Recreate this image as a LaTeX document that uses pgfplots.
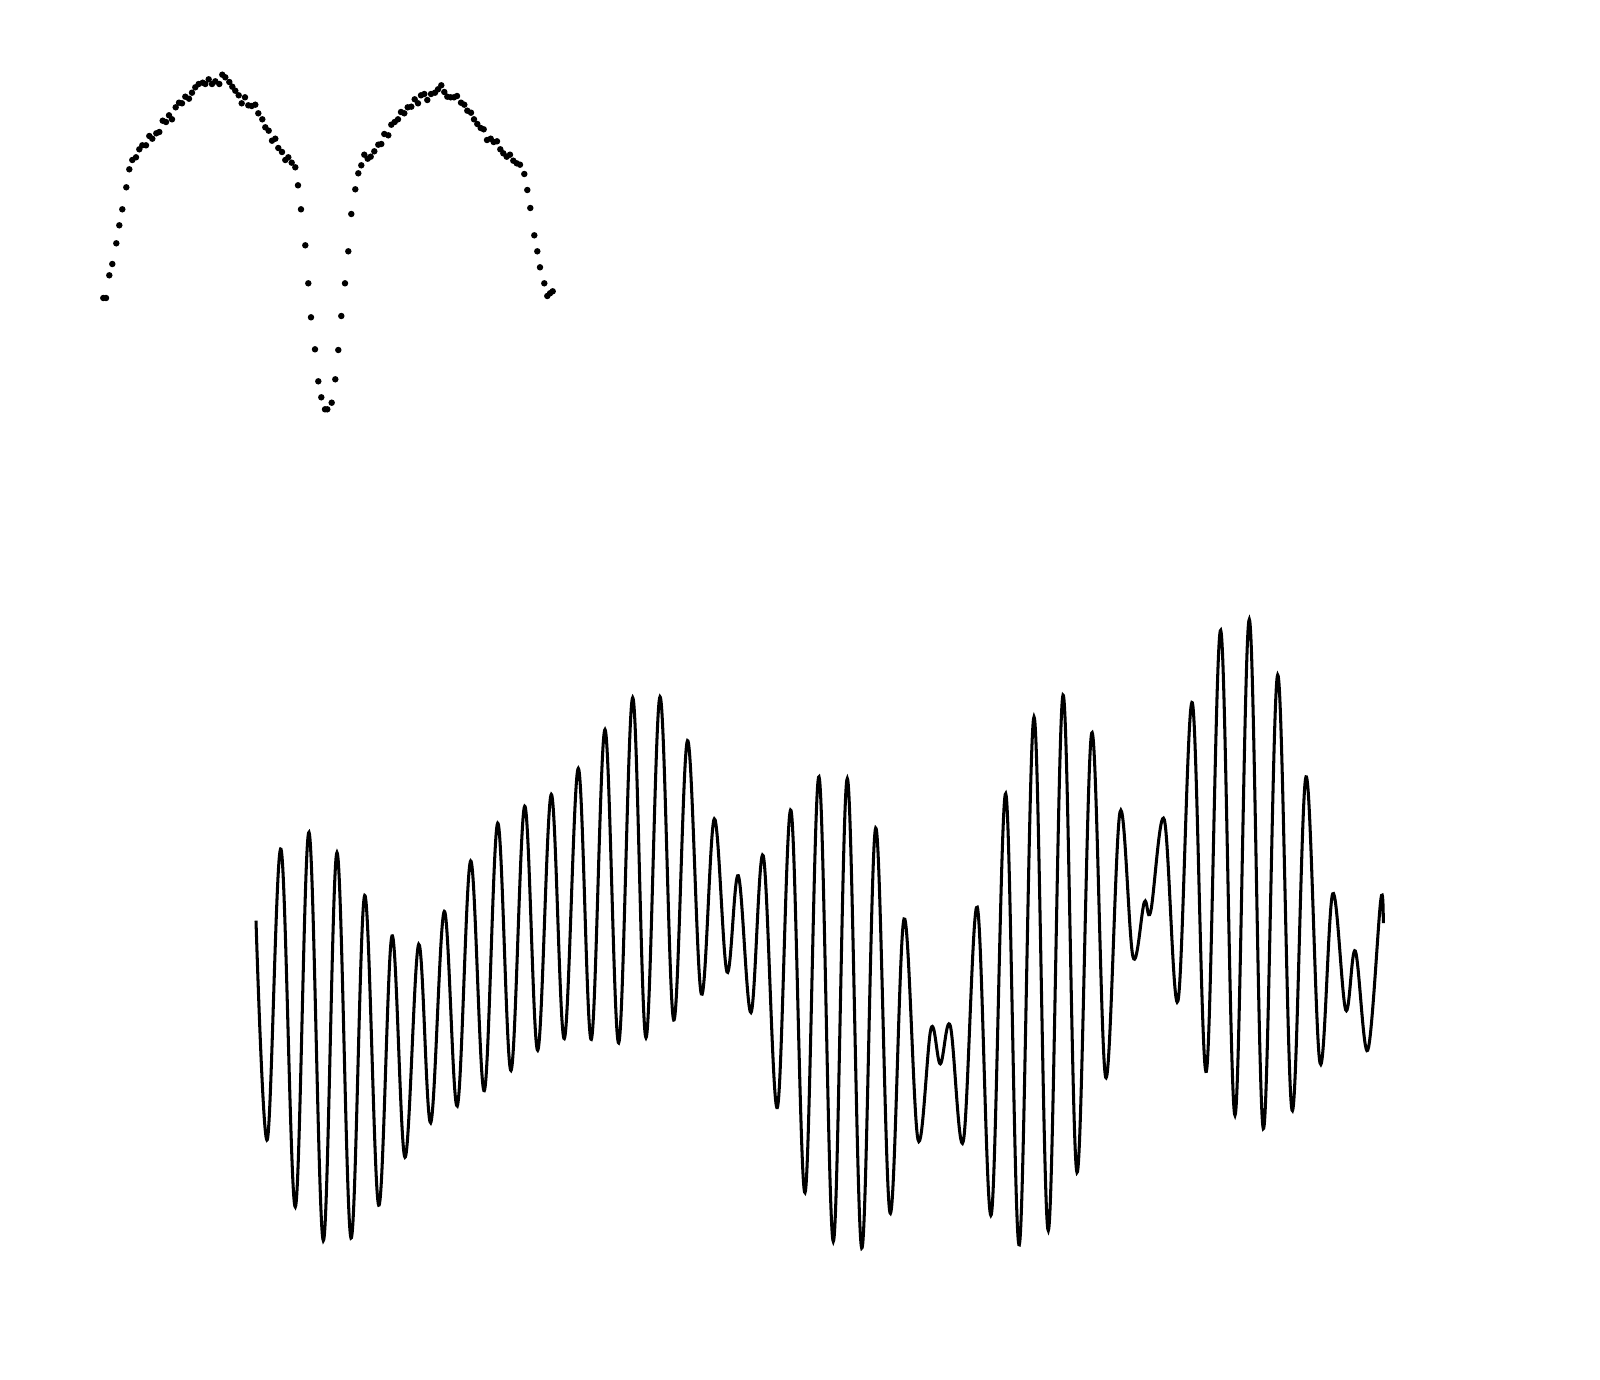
\documentclass[border=0pt]{standalone}
\usepackage{pgfplots}
\pgfplotsset{compat=1.18}
\begin{document}
\begin{tikzpicture}
\begin{axis}[
  scale only axis, width=8in, height=6.9in,
  xmin=0, xmax=1600, ymin=0, ymax=1380, y dir=reverse,
  axis line style={draw=none}, ticks=none, clip=false,
]
\addplot[only marks, mark=*, mark size=0.95pt, black] coordinates {
(103.3,298)(106,298)(109.3,275.3)(112.3,264)(116.3,243.3)(119.3,225.3)(122.3,209.3)(126.3,187.3)(129.3,169.3)(132.3,160)
(136,157.3)(139.3,149.3)(142.3,145.3)(146,145.3)(149.3,136)(152.3,138.7)(156.3,133.3)(159.3,132)(162.7,120.7)(166,122)
(169,115.3)(172,119.3)(175.7,107.3)(179,102.7)(182,103.3)(185.3,96.7)(189,98.7)(192,92.7)(195.3,87.3)(198.7,84)
(202.7,82.7)(205.3,84)(208.7,79.3)(212,84)(215.3,81.3)(219.3,84)(222.3,74.7)(225.3,77.3)(229.3,82)(232.3,86.7)
(235.3,90.7)(238.7,95.3)(241.7,103.3)(245,97.3)(248.3,105.3)(251.7,106)(255.3,104.7)(258.3,113.3)(262.3,119.3)(265.3,127.3)
(268.7,130.7)(272,140.7)(275.3,138.7)(278.3,148)(282,152)(285.3,160)(288.3,157.3)(291.7,162.7)(295.3,167.3)(298,185.3)
(301,209.3)(305.3,245.3)(308.3,283.3)(311,317.3)(315,349.3)(318.3,381.3)(321.3,397.3)(325,409.3)(327.3,409.3)
(331.7,402.7)(335.3,379.3)(338.3,350)(341.3,316)(345,283.3)(348.3,251.3)(351.3,214)(355.3,189.3)(358.3,173.3)(361.3,165.3)
(364.3,154.7)(367.7,158.7)(370.7,156.7)(374.3,151.3)(378.3,144.7)(381.3,144)(384.3,134)(388.3,135.3)(391.3,124.7)(394.7,122)
(398,119.3)(401,112)(404.3,113.3)(407.7,107.3)(411.3,106.7)(414.7,99.3)(418,103.3)(421,95.3)(424.3,94)(427.3,100)
(431,94)(435,92.7)(438,89.3)(441.3,85.3)(444.3,92)(447.3,96.7)(450.7,97.3)(454,97.3)(457,96)(461,102.7)
(464.3,104.7)(467.3,110.7)(471,112.7)(474,119.3)(477.3,124)(480.7,128)(483.7,129.3)(487,140)(490.7,138.7)(493.7,142)
(497,141.3)(500.3,149.3)(503.3,153.3)(506.7,156.7)(510,154.7)(513.3,160.7)(516.7,163.3)(520,164.7)(524.3,174)(527.3,190)
(530.3,208)(534.3,235.3)(537.3,251.3)(540,267.3)(544.3,283.3)(547.3,296)(550,293.3)(552.7,291.3)
};
\addplot[black, line width=1.1pt, smooth, tension=0.6] coordinates {
(256,920.7)(267.3,1139.6)(281,849.2)(295.3,1206.9)(309,832.3)(323.3,1240.6)(337,852.5)(351,1238)(364.7,895.5)(378.7,1205.2)
(392,935.9)(405,1157.2)(418.7,944.3)(430.7,1122.7)(444.3,911.4)(457.3,1105.9)(470.7,860.9)(484.3,1090.7)(497.7,823.1)(511,1070.5)
(524.7,806.2)(537.7,1050.3)(551.3,794.4)(564.3,1038.6)(578.3,768.4)(591.3,1039.4)(605,729.6)(618.7,1042.8)(632.7,697.6)(646,1037.7)
(660,696.8)(673.7,1020)(687.5,740.6)(701.3,993.9)(714.3,818.9)(727,972)(738.3,875.7)(751,1012.5)(763.3,855.9)(777.3,1107.6)
(791,810.4)(805,1192.6)(819,776.8)(833.3,1241.4)(847.3,778.5)(861.7,1248.1)(875.7,828.1)(890,1212.8)(904,919)(918,1139.6)
(931,1028.5)(940.3,1063.8)(950.3,1025.9)(963.3,1141.2)(977.3,907.2)(991.3,1214.5)(1005.7,793.6)(1019.3,1244.8)(1034,717)(1048.3,1230.5)
(1063,695.1)(1077,1172.4)(1091.7,733)(1105.7,1077.3)(1120,812.1)(1133,956.9)(1144.3,902.2)(1150.7,911.4)(1164.3,819.7)(1178,1000.7)
(1192.3,702.7)(1206.3,1071.4)(1220.7,630.3)(1235,1115.2)(1249.3,619.4)(1263.3,1128.6)(1277.7,674.9)(1292,1110.1)(1306,776.8)(1320,1063)
(1332.7,893.8)(1345.7,1009.9)(1355.3,951)(1367.7,1050.3)(1380.7,900.5)(1383.3,923.2)
};
\end{axis}
\end{tikzpicture}
\end{document}
